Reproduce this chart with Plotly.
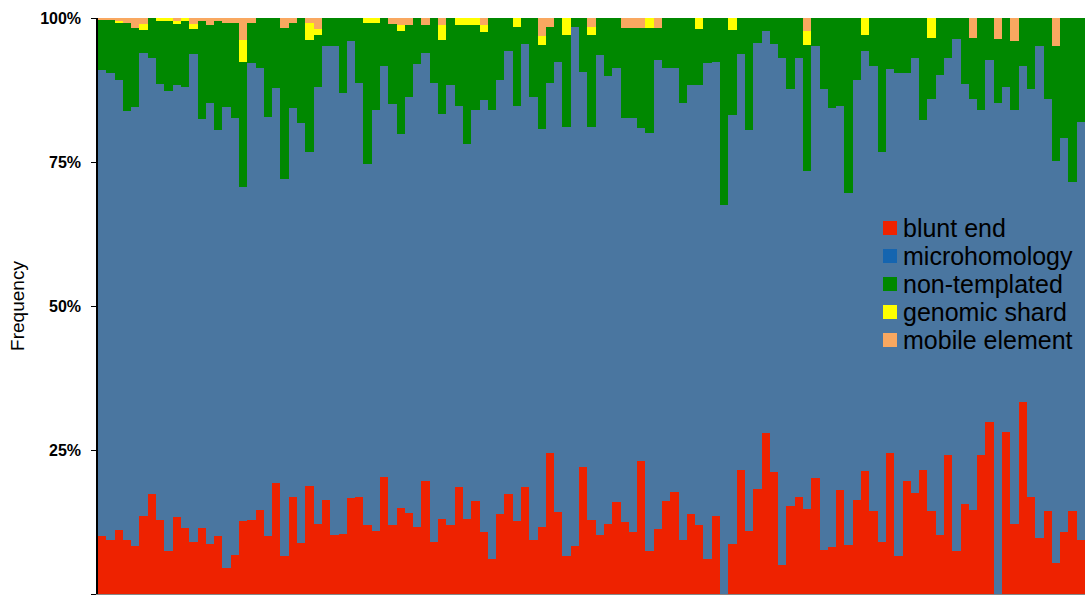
import plotly.graph_objects as go

# Percent of junctions per sample, by junction class
blunt_end = [
    10.1, 9.4, 11.1, 9.4, 8.3, 13.6, 17.3, 12.8, 7.5, 13.3,
    11.5, 9.0, 11.5, 8.7, 10.0, 4.6, 6.8, 12.7, 12.8, 14.6,
    10.1, 19.2, 6.6, 16.9, 8.9, 18.8, 12.2, 16.4, 10.2, 10.4,
    16.7, 16.9, 11.9, 10.9, 20.4, 11.9, 15.0, 14.0, 11.7, 19.6,
    9.1, 13.0, 11.9, 18.5, 13.1, 16.1, 10.8, 6.0, 13.9, 17.3,
    12.6, 18.6, 9.4, 11.6, 24.4, 14.2, 6.6, 8.3, 22.0, 12.9,
    10.2, 12.2, 16.0, 12.5, 10.8, 23.1, 7.5, 11.2, 16.1, 17.7,
    9.4, 13.9, 11.9, 6.1, 13.6, 0.0, 8.7, 21.5, 10.9, 18.2,
    28.0, 21.2, 5.0, 15.2, 16.9, 14.8, 20.2, 7.7, 8.1, 18.1,
    8.5, 16.4, 21.4, 14.4, 9.1, 24.4, 6.6, 19.6, 17.5, 21.5,
    14.4, 10.2, 24.2, 7.5, 15.6, 14.5, 24.2, 29.8, 0.0, 28.2,
    12.2, 33.4, 16.9, 9.7, 14.4, 5.3, 10.8, 14.4, 9.3,
]
microhomology = [
    80.8, 81.1, 78.2, 74.4, 76.2, 80.3, 75.7, 75.8, 79.8, 75.0,
    76.6, 84.7, 70.9, 76.6, 70.6, 80.0, 75.8, 57.9, 79.4, 76.7,
    72.7, 68.7, 65.4, 67.4, 72.8, 57.9, 75.9, 78.7, 84.9, 76.5,
    79.3, 71.9, 62.7, 73.1, 71.2, 73.2, 64.8, 72.2, 80.4, 74.3,
    79.7, 70.4, 76.4, 66.2, 65.0, 68.0, 74.9, 78.0, 75.3, 77.0,
    72.2, 76.9, 76.8, 69.1, 64.4, 78.2, 74.5, 90.2, 68.7, 68.2,
    83.3, 77.7, 75.4, 70.1, 71.8, 57.8, 72.6, 81.5, 75.2, 73.7,
    75.9, 74.4, 76.4, 86.1, 78.8, 67.5, 74.5, 72.2, 69.6, 77.4,
    69.8, 74.3, 88.0, 72.4, 76.1, 58.6, 74.9, 79.9, 76.3, 66.6,
    61.1, 72.9, 72.8, 77.2, 67.6, 66.7, 83.9, 70.9, 75.6, 60.8,
    71.5, 79.9, 68.9, 88.9, 73.0, 71.4, 59.9, 62.9, 85.3, 59.9,
    71.9, 58.3, 70.7, 85.5, 71.5, 69.8, 68.4, 57.2, 72.7,
]
non_templated = [
    8.8, 9.3, 9.8, 15.4, 13.8, 4.1, 7.0, 10.8, 12.1, 10.7,
    11.3, 4.4, 17.0, 13.4, 18.8, 14.6, 16.6, 21.7, 7.0, 8.7,
    17.2, 12.1, 26.3, 14.8, 18.3, 19.5, 9.0, 4.9, 4.9, 13.1,
    4.0, 11.2, 24.5, 15.1, 8.4, 13.9, 17.9, 12.6, 7.9, 4.9,
    11.2, 12.8, 11.7, 14.0, 20.6, 14.6, 11.8, 16.0, 10.8, 5.7,
    13.7, 4.5, 13.8, 14.6, 9.7, 7.6, 15.9, 1.5, 9.3, 15.9,
    6.5, 10.1, 8.6, 15.7, 15.7, 17.4, 18.2, 5.6, 8.7, 8.6,
    14.7, 11.7, 9.8, 7.8, 7.6, 32.5, 14.8, 6.3, 19.5, 4.4,
    2.2, 4.5, 7.0, 12.4, 7.0, 21.9, 4.9, 12.4, 15.6, 15.3,
    30.4, 10.7, 2.8, 8.4, 23.3, 8.9, 9.5, 9.5, 6.9, 17.7,
    10.7, 9.9, 6.9, 3.6, 11.4, 10.7, 15.9, 7.3, 11.0, 11.9,
    11.9, 8.3, 12.4, 4.8, 14.1, 20.0, 20.8, 28.4, 18.0,
]
genomic_shard = [
    0.0, 0.0, 0.4, 0.0, 0.0, 1.0, 0.0, 0.6, 0.6, 0.4,
    0.6, 0.8, 0.0, 0.0, 0.0, 0.0, 0.0, 3.8, 0.0, 0.0,
    0.0, 0.0, 0.0, 0.0, 0.0, 2.9, 1.0, 0.0, 0.0, 0.0,
    0.0, 0.0, 0.9, 0.9, 0.0, 0.0, 1.1, 0.0, 0.0, 0.0,
    0.0, 2.6, 0.0, 1.3, 1.3, 1.3, 1.2, 0.0, 0.0, 0.0,
    1.5, 0.0, 0.0, 1.5, 0.0, 0.0, 3.0, 0.0, 0.0, 1.5,
    0.0, 0.0, 0.0, 0.0, 0.0, 0.0, 1.7, 0.0, 0.0, 0.0,
    0.0, 0.0, 1.9, 0.0, 0.0, 0.0, 2.0, 0.0, 0.0, 0.0,
    0.0, 0.0, 0.0, 0.0, 0.0, 2.4, 0.0, 0.0, 0.0, 0.0,
    0.0, 0.0, 3.0, 0.0, 0.0, 0.0, 0.0, 0.0, 0.0, 0.0,
    3.4, 0.0, 0.0, 0.0, 0.0, 0.0, 0.0, 0.0, 0.0, 0.0,
    0.0, 0.0, 0.0, 0.0, 0.0, 0.0, 0.0, 0.0, 0.0,
]
mobile_element = [
    0.3, 0.2, 0.5, 0.8, 1.7, 1.0, 0.0, 0.0, 0.0, 0.6,
    0.0, 1.1, 0.6, 1.3, 0.6, 0.8, 0.8, 3.9, 0.8, 0.0,
    0.0, 0.0, 1.7, 0.9, 0.0, 0.9, 1.9, 0.0, 0.0, 0.0,
    0.0, 0.0, 0.0, 0.0, 0.0, 1.0, 1.2, 1.2, 0.0, 1.2,
    0.0, 1.2, 0.0, 0.0, 0.0, 0.0, 1.3, 0.0, 0.0, 0.0,
    0.0, 0.0, 0.0, 3.2, 1.5, 0.0, 0.0, 0.0, 0.0, 1.5,
    0.0, 0.0, 0.0, 1.7, 1.7, 1.7, 0.0, 1.7, 0.0, 0.0,
    0.0, 0.0, 0.0, 0.0, 0.0, 0.0, 0.0, 0.0, 0.0, 0.0,
    0.0, 0.0, 0.0, 0.0, 0.0, 2.3, 0.0, 0.0, 0.0, 0.0,
    0.0, 0.0, 0.0, 0.0, 0.0, 0.0, 0.0, 0.0, 0.0, 0.0,
    0.0, 0.0, 0.0, 0.0, 0.0, 3.4, 0.0, 0.0, 3.7, 0.0,
    4.0, 0.0, 0.0, 0.0, 0.0, 4.9, 0.0, 0.0, 0.0,
]

categories = ["blunt end", "microhomology", "non-templated", "genomic shard", "mobile element"]
bar_colors = ["#EE2200", "#4A76A0", "#008800", "#FFFF00", "#F9A860"]
legend_colors = ["#EE2200", "#1565B0", "#008800", "#FFFF00", "#F9A860"]
y_ticks = [0, 25, 50, 75, 100]
y_tick_labels = ["0%", "25%", "50%", "75%", "100%"]

samples = list(range(1, len(blunt_end) + 1))
series = [blunt_end, microhomology, non_templated, genomic_shard, mobile_element]

FONT = "Liberation Sans, Arial, sans-serif"

fig = go.Figure()
for name, values, color in zip(categories, series, bar_colors):
    fig.add_trace(go.Bar(
        x=samples, y=values, name=name,
        marker=dict(color=color, line=dict(width=0)),
        showlegend=False,
    ))

# Legend drawn as swatches + labels over the plot area
L, T, W, H = 98, 18, 987, 576
shapes = []
annotations = []
for i, (name, color) in enumerate(zip(categories, legend_colors)):
    cy = 228 + 28 * i
    shapes.append(dict(
        type="rect", xref="paper", yref="paper",
        x0=(883 - L) / W, x1=(897 - L) / W,
        y0=(594 - (cy + 7)) / H, y1=(594 - (cy - 7)) / H,
        fillcolor=color, line=dict(width=0),
    ))
    annotations.append(dict(
        xref="paper", yref="paper",
        x=(901 - L) / W, y=(594 - cy) / H,
        xanchor="left", yanchor="middle",
        text=name, showarrow=False,
        font=dict(family=FONT, size=25, color="#000000"),
    ))

fig.update_layout(
    barmode="stack",
    barnorm="percent",
    bargap=0,
    width=1085, height=601,
    margin=dict(l=L, r=0, t=T, b=601 - 594),
    plot_bgcolor="#FFFFFF",
    paper_bgcolor="#FFFFFF",
    shapes=shapes,
    annotations=annotations,
    showlegend=False,
)
fig.update_xaxes(
    range=[0.5, len(samples) + 0.5],
    showticklabels=False, ticks="",
    showgrid=False, zeroline=False,
    showline=True, linecolor="#888888", linewidth=1,
)
fig.update_yaxes(
    range=[0, 100],
    tickvals=y_ticks, ticktext=y_tick_labels,
    ticks="outside", ticklen=5, tickcolor="#000000",
    ticklabelstandoff=7,
    tickfont=dict(family=FONT, size=16, color="#000000", weight="bold"),
    showgrid=False, zeroline=False,
    showline=True, linecolor="#000000", linewidth=1.5,
    title=dict(text="Frequency", font=dict(family=FONT, size=19, color="#000000"), standoff=10),
)

fig.write_html("out.html")
